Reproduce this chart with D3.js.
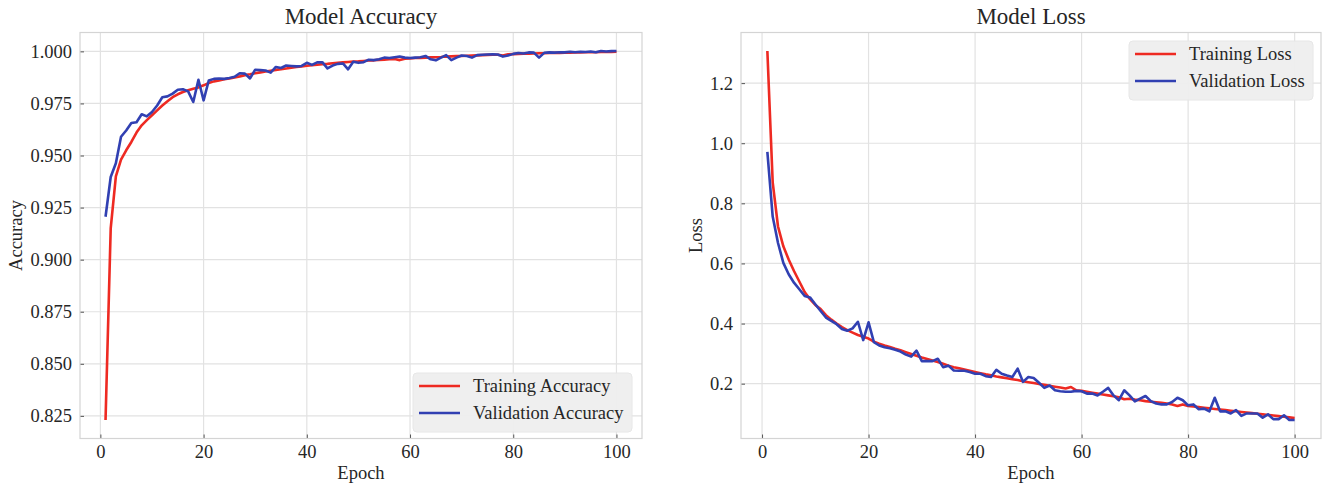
<!DOCTYPE html>
<html>
<head>
<meta charset="utf-8">
<script src="https://cdn.jsdelivr.net/npm/d3@7"></script>
<style>
  html, body { margin: 0; padding: 0; background: #ffffff; }
  svg text { font-family: "Liberation Serif", "Times New Roman", serif; fill: #262626; }
</style>
</head>
<body>
<svg id="chart" width="1331" height="489"></svg>
<script>
// Training history, epochs 1..100
const epochs = d3.range(1, 101);

const trainAcc = [
  0.823, 0.915, 0.940, 0.948, 0.9525, 0.9565, 0.961, 0.9645, 0.967, 0.9693,
  0.9717, 0.974, 0.976, 0.978, 0.9794, 0.9805, 0.9813, 0.982, 0.9827, 0.9837,
  0.9848, 0.9856, 0.9860, 0.9866, 0.9870, 0.9875, 0.9880, 0.9886, 0.9890, 0.9895,
  0.9899, 0.9903, 0.9907, 0.9911, 0.9914, 0.9918, 0.9921, 0.9925, 0.9928, 0.9931,
  0.9933, 0.9936, 0.9938, 0.9940, 0.9943, 0.9945, 0.9947, 0.9949, 0.9951, 0.9952,
  0.9954, 0.9956, 0.9957, 0.9959, 0.9960, 0.9962, 0.9963, 0.9958, 0.9965, 0.9966,
  0.9968, 0.9969, 0.9970, 0.9971, 0.9972, 0.9973, 0.9975, 0.9976, 0.9977, 0.9978,
  0.9979, 0.9980, 0.9981, 0.9982, 0.9983, 0.9984, 0.9984, 0.9980, 0.9986, 0.9987,
  0.9988, 0.9989, 0.9989, 0.9990, 0.9991, 0.9991, 0.9992, 0.9993, 0.9993, 0.9994,
  0.9994, 0.9995, 0.9995, 0.9996, 0.9996, 0.9996, 0.9997, 0.9997, 0.9997, 0.9998
];

const valAcc = [
  0.9206, 0.9397, 0.9463, 0.959, 0.962, 0.9656, 0.966, 0.9698, 0.9688, 0.9709,
  0.974, 0.978, 0.9784, 0.9797, 0.9816, 0.9818, 0.9808, 0.9757, 0.9864, 0.9765,
  0.9860, 0.9868, 0.9870, 0.9868, 0.9872, 0.9878, 0.9895, 0.9893, 0.9870, 0.9912,
  0.9910, 0.9908, 0.9898, 0.9925, 0.9920, 0.9932, 0.9930, 0.9928, 0.9930, 0.9945,
  0.9935, 0.9947, 0.9948, 0.9918, 0.9932, 0.9940, 0.9942, 0.9914, 0.9950, 0.9945,
  0.9948, 0.9960, 0.9958, 0.9962, 0.9970, 0.9968, 0.9972, 0.9975, 0.9970, 0.9968,
  0.9970, 0.9972, 0.9978, 0.9962, 0.9957, 0.9970, 0.9982, 0.9958, 0.9970, 0.9980,
  0.9978, 0.9970, 0.9982, 0.9984, 0.9985, 0.9986, 0.9985, 0.9975, 0.9980, 0.9988,
  0.9992, 0.9990, 0.9995, 0.9994, 0.9970, 0.9993, 0.9995, 0.9994, 0.9996, 0.9995,
  0.9998, 0.9996, 0.9998, 0.9997, 0.9999, 0.9996, 1.0002, 0.9999, 1.0001, 1.0002
];

const trainLoss = [
  1.307, 0.870, 0.723, 0.657, 0.613, 0.575, 0.540, 0.505, 0.481, 0.462,
  0.448, 0.428, 0.413, 0.400, 0.388, 0.378, 0.370, 0.362, 0.356, 0.350,
  0.340, 0.333, 0.327, 0.322, 0.316, 0.311, 0.305, 0.299, 0.293, 0.287,
  0.282, 0.277, 0.272, 0.266, 0.260, 0.255, 0.251, 0.247, 0.243, 0.239,
  0.235, 0.231, 0.228, 0.224, 0.221, 0.218, 0.215, 0.212, 0.208, 0.205,
  0.202, 0.199, 0.196, 0.193, 0.190, 0.187, 0.184, 0.189, 0.178, 0.176,
  0.173, 0.170, 0.167, 0.164, 0.161, 0.158, 0.155, 0.148, 0.150, 0.147,
  0.145, 0.142, 0.140, 0.138, 0.136, 0.134, 0.131, 0.126, 0.131, 0.126,
  0.124, 0.122, 0.120, 0.118, 0.116, 0.114, 0.112, 0.110, 0.108, 0.106,
  0.104, 0.102, 0.100, 0.098, 0.096, 0.094, 0.092, 0.090, 0.088, 0.086
];

const valLoss = [
  0.971, 0.756, 0.668, 0.602, 0.564, 0.536, 0.514, 0.492, 0.487, 0.464,
  0.442, 0.420, 0.409, 0.398, 0.382, 0.376, 0.384, 0.406, 0.345, 0.404,
  0.338, 0.327, 0.321, 0.318, 0.313, 0.307, 0.297, 0.290, 0.310, 0.275,
  0.275, 0.275, 0.283, 0.255, 0.260, 0.244, 0.243, 0.243, 0.239, 0.233,
  0.233, 0.225, 0.222, 0.246, 0.233, 0.227, 0.222, 0.250, 0.206, 0.222,
  0.219, 0.203, 0.186, 0.194, 0.178, 0.175, 0.173, 0.173, 0.176, 0.175,
  0.167, 0.167, 0.161, 0.173, 0.186, 0.161, 0.145, 0.178, 0.161, 0.141,
  0.150, 0.159, 0.142, 0.134, 0.131, 0.131, 0.139, 0.153, 0.145, 0.128,
  0.131, 0.115, 0.117, 0.108, 0.153, 0.108, 0.108, 0.101, 0.112, 0.093,
  0.101, 0.101, 0.101, 0.087, 0.098, 0.082, 0.082, 0.095, 0.079, 0.079
];

const xTicks = [0, 20, 40, 60, 80, 100];
const accTicks = [0.825, 0.850, 0.875, 0.900, 0.925, 0.950, 0.975, 1.000];
const lossTicks = [0.2, 0.4, 0.6, 0.8, 1.0, 1.2];

const RED = "#ee2a22";
const BLUE = "#3140b2";
const FONT = '"Liberation Serif", "Times New Roman", serif';

const svg = d3.select("#chart");

// Pad a numeric extent by 5% on each side
function padded(ext) {
  const m = (ext[1] - ext[0]) * 0.05;
  return [ext[0] - m, ext[1] + m];
}

function drawPanel(opts) {
  const { left, right, top, bottom } = opts;
  const g = svg.append("g");

  const x = d3.scaleLinear().domain(padded(d3.extent(epochs))).range([left, right]);
  const y = d3.scaleLinear()
    .domain(padded(d3.extent(opts.train.concat(opts.val))))
    .range([bottom, top]);

  // grid
  g.append("g").selectAll("line").data(opts.yTicks).join("line")
    .attr("x1", left).attr("x2", right)
    .attr("y1", d => y(d)).attr("y2", d => y(d))
    .attr("stroke", "#e2e2e2").attr("stroke-width", 1.2);
  g.append("g").selectAll("line").data(xTicks).join("line")
    .attr("y1", top).attr("y2", bottom)
    .attr("x1", d => x(d)).attr("x2", d => x(d))
    .attr("stroke", "#e2e2e2").attr("stroke-width", 1.2);

  // axes with inward ticks
  const xAxis = g.append("g").attr("transform", `translate(0,${bottom})`)
    .call(d3.axisBottom(x).tickValues(xTicks).tickSize(-4).tickPadding(6).tickFormat(d3.format("d")));
  const yAxis = g.append("g").attr("transform", `translate(${left},0)`)
    .call(d3.axisLeft(y).tickValues(opts.yTicks).tickSize(-4).tickPadding(8).tickFormat(opts.yFormat));
  [xAxis, yAxis].forEach(a => {
    a.select(".domain").remove();
    a.selectAll(".tick line").attr("stroke", "#555").attr("stroke-width", 1);
    a.selectAll(".tick text").attr("font-size", 18.5)
      .style("font-family", FONT).attr("fill", "#262626");
  });

  // frame
  g.append("rect")
    .attr("x", left).attr("y", top)
    .attr("width", right - left).attr("height", bottom - top)
    .attr("fill", "none").attr("stroke", "#d4d4d4").attr("stroke-width", 1.2);

  // series
  const line = d3.line().x((d, i) => x(epochs[i])).y(d => y(d));
  g.append("path").datum(opts.train)
    .attr("fill", "none").attr("stroke", RED).attr("stroke-width", 2.6)
    .attr("stroke-linejoin", "round").attr("d", line);
  g.append("path").datum(opts.val)
    .attr("fill", "none").attr("stroke", BLUE).attr("stroke-width", 2.6)
    .attr("stroke-linejoin", "round").attr("d", line);

  // title and axis labels
  const cx = (left + right) / 2;
  g.append("text").attr("x", cx).attr("y", 24).attr("text-anchor", "middle")
    .attr("font-size", 23).text(opts.title);
  g.append("text").attr("x", cx).attr("y", 479).attr("text-anchor", "middle")
    .attr("font-size", 18.5).text("Epoch");
  g.append("text")
    .attr("transform", `translate(${opts.yLabelX},${(top + bottom) / 2}) rotate(-90)`)
    .attr("text-anchor", "middle").attr("font-size", 18.5).text(opts.yLabel);

  // legend
  const L = opts.legend;
  const lg = g.append("g").attr("transform", `translate(${L.x},${L.y})`);
  lg.append("rect").attr("width", L.w).attr("height", 59).attr("rx", 4)
    .attr("fill", "#efefef").attr("stroke", "#e6e6e6").attr("opacity", 0.95);
  const items = [{ name: opts.names[0], color: RED }, { name: opts.names[1], color: BLUE }];
  items.forEach((it, i) => {
    const yy = 13 + i * 27;
    lg.append("line").attr("x1", 6).attr("x2", 47).attr("y1", yy).attr("y2", yy)
      .attr("stroke", it.color).attr("stroke-width", 2.6);
    lg.append("text").attr("x", 60).attr("y", yy + 6).attr("font-size", 18.5).text(it.name);
  });
}

drawPanel({
  left: 80, right: 642, top: 32.5, bottom: 438.5,
  train: trainAcc, val: valAcc,
  yTicks: accTicks, yFormat: d3.format(".3f"),
  title: "Model Accuracy", yLabel: "Accuracy", yLabelX: 22,
  names: ["Training Accuracy", "Validation Accuracy"],
  legend: { x: 413, y: 373, w: 219 }
});

drawPanel({
  left: 741, right: 1321, top: 32.5, bottom: 438.5,
  train: trainLoss, val: valLoss,
  yTicks: lossTicks, yFormat: d3.format(".1f"),
  title: "Model Loss", yLabel: "Loss", yLabelX: 702,
  names: ["Training Loss", "Validation Loss"],
  legend: { x: 1129, y: 41, w: 184 }
});
</script>
</body>
</html>
